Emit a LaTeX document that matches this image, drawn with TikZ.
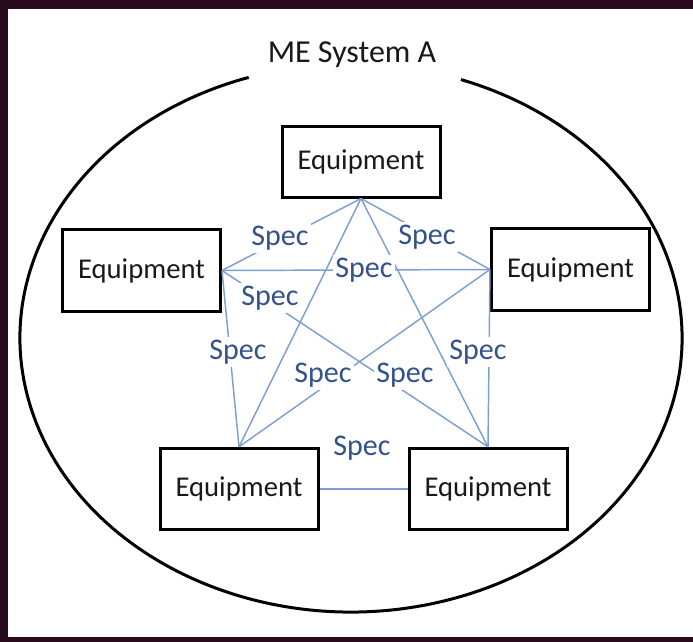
\documentclass[tikz,border=0pt]{standalone}
\usepackage{fontspec}
\setmainfont{Carlito}
\definecolor{frame}{HTML}{2A0B1E}
\definecolor{linkblue}{HTML}{7EA0D0}
\definecolor{specblue}{HTML}{34528A}
\begin{document}
\begin{tikzpicture}[x=0.75pt,y=0.75pt,
  equip/.style={draw=black, line width=2.25pt, fill=white, minimum width=118.5pt,
    minimum height=61pt, inner sep=0pt, text=black!90, font=\fontsize{21.5}{24}\selectfont},
  link/.style={draw=linkblue, line width=1.1pt},
  spec/.style={fill=white, text=specblue, inner sep=2pt, font=\fontsize{22.5}{25}\selectfont},
]
\useasboundingbox (0,0) rectangle (693,-642);
% dark frame and white sheet
\fill[frame] (0,0) rectangle (693,-642);
\fill[white] (8,-9) rectangle (693,-637);

% system boundary, open at the top for the title
\draw[line width=2.25pt] (351,-338) ++(108:331 and 274)
  arc[start angle=108, end angle=430.6, x radius=331, y radius=274];
\node[font=\fontsize{24}{27}\selectfont, text=black!90] (title) at (352,-55) {ME System A};

% equipment boxes
\node[equip, minimum height=52.5pt] (top) at (361,-162) {Equipment};
\node[equip] (left)  at (141.5,-270.5) {Equipment};
\node[equip] (right) at (570.5,-269.5) {Equipment};
\node[equip] (bl)    at (239,-489) {Equipment};
\node[equip] (br)    at (488,-489) {Equipment};

% interfaces between every pair of boxes
\draw[link] (top.south) -- (left.east);
\draw[link] (top.south) -- (right.west);
\draw[link] (top.south) -- (bl.north);
\draw[link] (top.south) -- (br.north);
\draw[link] (left.east) -- (right.west);
\draw[link] (left.east) -- (bl.north);
\draw[link] (left.east) -- (br.north);
\draw[link] (right.west) -- (bl.north);
\draw[link] (right.west) -- (br.north);
\draw[link] (bl.east) -- (br.west);

% interface specifications
\node[spec] (s1) at (280,-238) {Spec};
\node[spec] (s2) at (427,-237) {Spec};
\node[spec] (s3) at (364,-270) {Spec};
\node[spec] (s4) at (270,-298) {Spec};
\node[spec] (s5) at (238,-352) {Spec};
\node[spec] (s6) at (478,-352) {Spec};
\node[spec] (s7) at (323,-375) {Spec};
\node[spec] (s8) at (405,-375) {Spec};
\node[spec] (s9) at (362,-448) {Spec};
\end{tikzpicture}
\end{document}
